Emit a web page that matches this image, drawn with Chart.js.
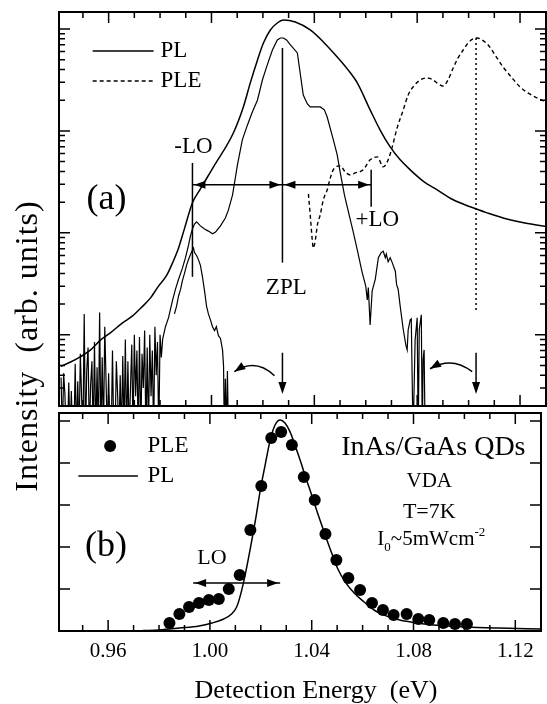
<!DOCTYPE html>
<html>
<head>
<meta charset="utf-8">
<script src="https://cdn.jsdelivr.net/npm/chart.js@4.4.1/dist/chart.umd.min.js"></script>
<style>
  body { margin: 0; background: #fff; }
  #wrap { position: relative; width: 547px; height: 704px; }
  #wrap canvas { position: absolute; left: 0; top: 0; }
</style>
</head>
<body>
<div id="wrap">
  <canvas id="panelA" width="547" height="704"></canvas>
  <canvas id="panelB" width="547" height="704"></canvas>
</div>
<script>
const SERIF = "'Liberation Serif', 'Times New Roman', serif";

// shared energy axis (eV)
const xMin = 0.9407, xMax = 1.1301;
const xTicks = [0.95, 0.96, 0.97, 0.98, 0.99, 1.00, 1.01, 1.02, 1.03, 1.04, 1.05, 1.06, 1.07, 1.08, 1.09, 1.10, 1.11, 1.12];
const xLabels = [0.96, 1.00, 1.04, 1.08, 1.12];

// panel (a), log intensity
const yMinA = 2.0, yMaxA = 14680;
const yTicksA = [3, 4, 5, 6, 7, 8, 9, 10, 20, 30, 40, 50, 60, 70, 80, 90, 100, 200, 300, 400, 500, 600, 700, 800, 900,
  1000, 2000, 3000, 4000, 5000, 6000, 7000, 8000, 9000, 10000];
const yMajorA = [10, 100, 1000, 10000];

// broad PL
const plE = [0.9414, 0.9452, 0.9491, 0.9530, 0.9569, 0.9608, 0.9654, 0.9693, 0.9732, 0.9763, 0.9794, 0.9825, 0.9849, 0.9872, 0.9895,
  0.9926, 0.9957, 1.0008, 1.0085, 1.0124, 1.0151, 1.0179, 1.0202, 1.0229, 1.0256, 1.0280, 1.0326, 1.0384, 1.0435, 1.0489,
  1.0528, 1.0567, 1.0617, 1.0656, 1.0695, 1.0734, 1.0773, 1.0823, 1.0878, 1.0940, 1.1006, 1.1072, 1.1134, 1.1219, 1.1305];
const plI = [4.9, 5.4, 6.1, 7.1, 8.9, 10.5, 13.1, 15.3, 19, 23, 30, 38, 51, 71, 110,
  197, 270, 444, 955, 1720, 2960, 4970, 7290, 9780, 11450, 12250, 11700, 9780, 7460, 5310,
  4060, 2960, 1610, 1020, 697, 520, 415, 322, 264, 211, 180, 157, 140, 125, 115];

// selectively excited PL: noisy low-energy tail
const rplNoiseE = [0.9415, 0.9420, 0.9425, 0.9430, 0.9435, 0.9440, 0.9445, 0.9450, 0.9455, 0.9460,
  0.9465, 0.9470, 0.9475, 0.9480, 0.9485, 0.9490, 0.9495, 0.9500, 0.9505, 0.9510,
  0.9515, 0.9520, 0.9525, 0.9530, 0.9535, 0.9540, 0.9545, 0.9550, 0.9555, 0.9560,
  0.9565, 0.9570, 0.9575, 0.9580, 0.9585, 0.9590, 0.9595, 0.9600, 0.9605, 0.9610,
  0.9615, 0.9620, 0.9625, 0.9630, 0.9635, 0.9640, 0.9645, 0.9650, 0.9655, 0.9660,
  0.9665, 0.9670, 0.9675, 0.9680, 0.9685, 0.9690, 0.9695, 0.9700, 0.9705, 0.9710,
  0.9715, 0.9720, 0.9725, 0.9730, 0.9735, 0.9740, 0.9745, 0.9750, 0.9755, 0.9760,
  0.9765, 0.9770, 0.9775, 0.9780, 0.9785, 0.9790, 0.9795, 0.9800, 0.9805, 0.9810];
const rplNoiseI = [3.8, 1, 4.2, 2.6, 1, 1, 3.4, 1, 2.8, 1,
  1, 5.2, 1, 3.5, 1, 6.5, 2.4, 1, 16, 1,
  4.5, 7.5, 1, 3.2, 5.5, 1, 8.5, 1, 4.8, 1,
  16.5, 1, 6, 1, 12, 3.5, 1, 4.2, 1, 1,
  7, 1, 1, 5.5, 2.6, 1, 4, 1, 6.2, 1,
  9, 1, 5.5, 1, 3, 8, 1, 10, 2.5, 7,
  1, 9.5, 1, 6.5, 3, 11, 1, 7.5, 1, 10,
  2.5, 7, 1, 12, 4, 8.5, 1, 10, 6, 9];
// selectively excited PL: main part
const rplE = [0.9821, 0.9833, 0.9849, 0.9860, 0.9872, 0.9887, 0.9899, 0.9911, 0.9918, 0.9926, 0.9934, 0.9942, 0.9957, 0.9973, 0.9988,
  1.0004, 1.0016, 1.0035, 1.0054, 1.0066, 1.0082, 1.0101, 1.0120, 1.0140, 1.0159, 1.0179, 1.0198, 1.0217, 1.0237, 1.0256,
  1.0268, 1.0280, 1.0292, 1.0307, 1.0334, 1.0346, 1.0357, 1.0373, 1.0384, 1.0404, 1.0423, 1.0439, 1.0450, 1.0474, 1.0489,
  1.0501, 1.0517, 1.0528, 1.0540, 1.0551, 1.0567, 1.0586, 1.0600, 1.0606, 1.0610, 1.0617, 1.0625, 1.0637, 1.0649, 1.0660,
  1.0668, 1.0676, 1.0680, 1.0687, 1.0695, 1.0703, 1.0715, 1.0720, 1.0726, 1.0734, 1.0746, 1.0756, 1.0761, 1.0765, 1.0773,
  1.0777, 1.0784, 1.0792, 1.0800, 1.0804, 1.0808, 1.0816, 1.0820, 1.0823, 1.0827, 1.0831];
const rplI = [12, 14.7, 22, 28, 35, 45, 57, 76, 93, 109, 122, 128, 117, 109, 104,
  98, 102, 117, 140, 168, 236, 464, 816, 1145, 1535, 2010, 3160, 4440, 6220, 7800,
  8160, 8160, 7800, 6970, 5820, 3540, 2250, 1840, 1720, 1720, 1720, 1610, 1370, 816, 582,
  387, 236, 180, 134, 103, 68, 41, 30, 22, 29, 12.5, 27, 35, 57, 64,
  66, 57, 62, 52, 57, 51, 42, 31, 28, 19, 11.2, 7.9, 7.1, 11.2, 14,
  14.3, 1, 8.9, 14.7, 1, 11.2, 15.7, 1, 5.7, 7.1, 1];

// -LO replica peak
const loE = [0.9856, 0.9864, 0.9872, 0.9880, 0.9887, 0.9895, 0.9903, 0.9911, 0.9918, 0.9926, 0.9930, 0.9934, 0.9942, 0.9950, 0.9957, 0.9965,
  0.9973, 0.9981, 0.9988, 0.9996, 1.0004, 1.0012, 1.0019, 1.0027, 1.0035, 1.0043, 1.0047, 1.0050, 1.0054, 1.0058, 1.0062, 1.0066];
const loI = [16, 19, 24, 28, 34, 40, 48, 55, 61, 68, 71, 64, 60, 54, 48, 37,
  27, 19, 16, 14, 12, 11, 12, 9.8, 9.2, 7.1, 4.9, 1, 3.7, 1, 4.4, 1];

// PLE (a)
const pleE = [1.0377, 1.0384, 1.0392, 1.0396, 1.0404, 1.0412, 1.0423, 1.0435, 1.0450, 1.0462, 1.0478, 1.0501, 1.0520, 1.0540, 1.0559,
  1.0590, 1.0617, 1.0645, 1.0668, 1.0687, 1.0703, 1.0722, 1.0746, 1.0765, 1.0784, 1.0812, 1.0839, 1.0862, 1.0882, 1.0901,
  1.0920, 1.0940, 1.0959, 1.0979, 1.0998, 1.1017, 1.1033, 1.1052, 1.1076, 1.1103, 1.1134, 1.1169, 1.1200, 1.1231, 1.1266, 1.1301];
const pleI = [241, 150, 85, 71, 85, 120, 150, 211, 264, 346, 433, 454, 396, 370, 387,
  415, 520, 556, 444, 520, 697, 1070, 1610, 2250, 2700, 3160, 3310, 3160, 2890, 2760,
  3160, 4150, 5200, 6220, 7290, 7980, 8160, 7800, 6970, 5560, 4240, 3310, 2700, 2360, 2110, 1920];

// panel (b), linear intensity
const yMinB = 0, yMaxB = 1.038;
const yTicksB = [0.2, 0.4, 0.6, 0.8, 1.0];
const bPleE = [0.9841, 0.9880, 0.9918, 0.9957, 0.9996, 1.0035, 1.0074, 1.0117, 1.0159, 1.0202, 1.0241, 1.0280, 1.0322, 1.0369,
  1.0412, 1.0454, 1.0497, 1.0544, 1.0590, 1.0637, 1.0680, 1.0722, 1.0773, 1.0819, 1.0862, 1.0917, 1.0963, 1.1010];
const bPleV = [0.038, 0.081, 0.114, 0.133, 0.148, 0.152, 0.200, 0.267, 0.481, 0.690, 0.919, 0.948, 0.886, 0.733,
  0.624, 0.462, 0.338, 0.252, 0.195, 0.133, 0.100, 0.076, 0.081, 0.057, 0.052, 0.038, 0.033, 0.033];
const bPlE = [0.9736, 0.9802, 0.9880, 0.9957, 1.0008, 1.0054, 1.0085, 1.0105, 1.0120, 1.0140, 1.0159, 1.0179, 1.0198, 1.0217,
  1.0237, 1.0256, 1.0276, 1.0295, 1.0315, 1.0334, 1.0357, 1.0377, 1.0396, 1.0423, 1.0450, 1.0474, 1.0501, 1.0532,
  1.0567, 1.0606, 1.0645, 1.0695, 1.0746, 1.0812, 1.0878, 1.1006, 1.1134, 1.1301];
const bPlV = [0.002, 0.005, 0.014, 0.024, 0.038, 0.057, 0.081, 0.114, 0.171, 0.276, 0.395, 0.529, 0.671, 0.790,
  0.910, 0.981, 1.005, 0.990, 0.948, 0.886, 0.805, 0.729, 0.662, 0.562, 0.467, 0.386, 0.300, 0.233,
  0.181, 0.138, 0.100, 0.071, 0.052, 0.038, 0.029, 0.019, 0.014, 0.010];

// annotation anchors (energy, intensity)
const markLinesA = [
  { e: 0.9926, top: 485, bottom: 37, dash: [] },      // -LO
  { e: 1.0276, top: 6520, bottom: 51, dash: [] },     // ZPL
  { e: 1.0621, top: 415, bottom: 180, dash: [] },     // +LO
  { e: 1.1029, top: 8160, bottom: 16.4, dash: [2, 3] } // PLE max
];
const loArrowsA = [[0.9926, 1.0276], [1.0276, 1.0621]];
const loArrowLevelA = 296;
const downArrowsA = [1.0276, 1.1029];
const downArrowSpanA = [6.66, 2.62];
const curvedArrowsA = [
  { from: [1.0245, 3.96], ctrl: [1.0171, 5.96], to: [1.0089, 4.34] },
  { from: [1.1014, 4.34], ctrl: [1.0936, 6.22], to: [1.0850, 4.64] }
];
const textsA = [
  { t: '(a)', e: 0.9592, v: 211, size: 36 },
  { t: '-LO', e: 0.9930, v: 697, size: 23 },
  { t: '+LO', e: 1.0645, v: 134, size: 23 },
  { t: 'ZPL', e: 1.0291, v: 28.9, size: 23 }
];
const textsB = [
  { t: '(b)', e: 0.9592, v: 0.40, size: 36 },
  { t: 'LO', e: 1.0008, v: 0.348, size: 22 },
  { t: 'InAs/GaAs QDs', e: 1.0878, v: 0.871, size: 28 },
  { t: 'VDA', e: 1.0862, v: 0.710, size: 21 },
  { t: 'T=7K', e: 1.0862, v: 0.567, size: 22 }
];

function pairs(xs, ys) { return xs.map((v, i) => ({ x: v, y: ys[i] })); }

function head(ctx, tx, ty, ang, len, half) {
  len = len || 10; half = half || 4;
  const c = Math.cos(ang), s = Math.sin(ang);
  ctx.beginPath();
  ctx.moveTo(tx, ty);
  ctx.lineTo(tx - len * c - half * s, ty - len * s + half * c);
  ctx.lineTo(tx - len * c + half * s, ty - len * s - half * c);
  ctx.closePath();
  ctx.fill();
}

function doubleArrow(ctx, x1, x2, y) {
  ctx.beginPath(); ctx.moveTo(x1, y); ctx.lineTo(x2, y); ctx.stroke();
  head(ctx, x1 + 2, y, Math.PI, 11, 4);
  head(ctx, x2 - 2, y, 0, 11, 4);
}

function framePlugin(yTicks, yMajor) {
  return {
    id: 'frame',
    afterDatasetsDraw(chart) {
      const { ctx, chartArea: a, scales: { x, y } } = chart;
      ctx.save();
      ctx.strokeStyle = '#000';
      ctx.lineWidth = 1.5;
      ctx.beginPath();
      xTicks.forEach(v => {
        const px = x.getPixelForValue(v);
        const len = xLabels.includes(v) ? 11 : 6;
        ctx.moveTo(px, a.top); ctx.lineTo(px, a.top + len);
        ctx.moveTo(px, a.bottom); ctx.lineTo(px, a.bottom - len);
      });
      yTicks.forEach(v => {
        const py = y.getPixelForValue(v);
        const len = yMajor.includes(v) ? 11 : 6;
        ctx.moveTo(a.left, py); ctx.lineTo(a.left + len, py);
        ctx.moveTo(a.right, py); ctx.lineTo(a.right - len, py);
      });
      ctx.stroke();
      ctx.lineWidth = 2;
      ctx.strokeRect(a.left, a.top, a.right - a.left, a.bottom - a.top);
      ctx.restore();
    }
  };
}

function drawTexts(ctx, list, x, y) {
  ctx.textAlign = 'center';
  ctx.textBaseline = 'middle';
  list.forEach(o => {
    ctx.font = o.size + 'px ' + SERIF;
    ctx.fillText(o.t, x.getPixelForValue(o.e), y.getPixelForValue(o.v));
  });
}

const annotateA = {
  id: 'annotateA',
  afterDatasetsDraw(chart) {
    const { ctx, scales: { x, y } } = chart;
    const px = e => x.getPixelForValue(e), py = v => y.getPixelForValue(v);
    ctx.save();
    ctx.strokeStyle = '#000';
    ctx.fillStyle = '#000';
    ctx.lineWidth = 1.5;
    markLinesA.forEach(m => {
      ctx.setLineDash(m.dash);
      ctx.beginPath(); ctx.moveTo(px(m.e), py(m.top)); ctx.lineTo(px(m.e), py(m.bottom)); ctx.stroke();
    });
    ctx.setLineDash([]);
    loArrowsA.forEach(p => doubleArrow(ctx, px(p[0]), px(p[1]), py(loArrowLevelA)));
    downArrowsA.forEach(e => {
      const X = px(e), y1 = py(downArrowSpanA[0]), y2 = py(downArrowSpanA[1]);
      ctx.beginPath(); ctx.moveTo(X, y1); ctx.lineTo(X, y2 - 4); ctx.stroke();
      head(ctx, X, y2, Math.PI / 2, 12, 4);
    });
    curvedArrowsA.forEach(c => {
      const s = [px(c.from[0]), py(c.from[1])], k = [px(c.ctrl[0]), py(c.ctrl[1])], t = [px(c.to[0]), py(c.to[1])];
      ctx.beginPath(); ctx.moveTo(s[0], s[1]); ctx.quadraticCurveTo(k[0], k[1], t[0], t[1]); ctx.stroke();
      head(ctx, t[0], t[1], Math.atan2(t[1] - k[1], t[0] - k[0]), 11, 4);
    });
    drawTexts(ctx, textsA, x, y);
    // legend
    ctx.lineWidth = 1.5;
    ctx.beginPath(); ctx.moveTo(px(0.9538), py(6080)); ctx.lineTo(px(0.9775), py(6080)); ctx.stroke();
    ctx.setLineDash([4, 3]);
    ctx.beginPath(); ctx.moveTo(px(0.9538), py(3090)); ctx.lineTo(px(0.9775), py(3090)); ctx.stroke();
    ctx.setLineDash([]);
    ctx.font = '23px ' + SERIF;
    ctx.textAlign = 'left';
    ctx.fillText('PL', px(0.9802), py(6080));
    ctx.fillText('PLE', px(0.9802), py(3090));
    ctx.restore();
  }
};

const annotateB = {
  id: 'annotateB',
  afterDatasetsDraw(chart) {
    const { ctx, chartArea: a, scales: { x, y } } = chart;
    const px = e => x.getPixelForValue(e), py = v => y.getPixelForValue(v);
    ctx.save();
    ctx.strokeStyle = '#000';
    ctx.fillStyle = '#000';
    ctx.lineWidth = 1.5;
    doubleArrow(ctx, px(0.9934), px(1.0276), py(0.229));
    drawTexts(ctx, textsB, x, y);
    // I0 ~ 5 mW cm^-2
    const big = '21px ' + SERIF, small = '13px ' + SERIF;
    const parts = [['I', big, 0], ['0', small, 6], ['~5mWcm', big, 0], ['-2', small, -9]];
    let w = 0;
    parts.forEach(p => { ctx.font = p[1]; w += ctx.measureText(p[0]).width; });
    let cx = px(1.0870) - w / 2;
    const base = py(0.443) + 7;
    ctx.textAlign = 'left';
    ctx.textBaseline = 'alphabetic';
    parts.forEach(p => { ctx.font = p[1]; ctx.fillText(p[0], cx, base + p[2]); cx += ctx.measureText(p[0]).width; });
    // legend
    ctx.beginPath(); ctx.arc(px(0.9608), py(0.881), 6, 0, Math.PI * 2); ctx.fill();
    ctx.beginPath(); ctx.moveTo(px(0.9483), py(0.738)); ctx.lineTo(px(0.9717), py(0.738)); ctx.stroke();
    ctx.font = '23px ' + SERIF;
    ctx.textBaseline = 'middle';
    ctx.fillText('PLE', px(0.9755), py(0.881));
    ctx.fillText('PL', px(0.9755), py(0.738));
    // axis titles
    ctx.textAlign = 'center';
    ctx.font = '26px ' + SERIF;
    ctx.fillText('Detection Energy  (eV)', 316, 691);
    ctx.save();
    ctx.translate(a.left - 30, 346);
    ctx.rotate(-Math.PI / 2);
    ctx.font = '32px ' + SERIF;
    ctx.letterSpacing = '1px';
    ctx.fillText('Intensity  (arb. units)', 0, 0);
    ctx.restore();
    ctx.restore();
  }
};

Chart.defaults.font.family = SERIF;
Chart.defaults.color = '#000';

new Chart(document.getElementById('panelA'), {
  type: 'line',
  data: {
    datasets: [
      { data: pairs(plE, plI), borderColor: '#000', borderWidth: 1.5, pointRadius: 0, cubicInterpolationMode: 'monotone' },
      { data: pairs(rplNoiseE.concat(rplE), rplNoiseI.concat(rplI)), borderColor: '#000', borderWidth: 1.2, pointRadius: 0, tension: 0 },
      { data: pairs(loE, loI), borderColor: '#000', borderWidth: 1.2, pointRadius: 0, tension: 0 },
      { data: pairs(pleE, pleI), borderColor: '#000', borderWidth: 1.4, borderDash: [4, 3], pointRadius: 0, cubicInterpolationMode: 'monotone' }
    ]
  },
  options: {
    responsive: false, animation: false, devicePixelRatio: 1, events: [],
    layout: { padding: { top: 12, left: 59, right: 1, bottom: 298 } },
    scales: {
      x: { type: 'linear', min: xMin, max: xMax, display: false },
      y: { type: 'logarithmic', min: yMinA, max: yMaxA, display: false }
    },
    plugins: { legend: { display: false }, tooltip: { enabled: false } }
  },
  plugins: [framePlugin(yTicksA, yMajorA), annotateA]
});

new Chart(document.getElementById('panelB'), {
  type: 'line',
  data: {
    datasets: [
      { data: pairs(bPlE, bPlV), borderColor: '#000', borderWidth: 1.5, pointRadius: 0, cubicInterpolationMode: 'monotone' },
      { data: pairs(bPleE, bPleV), showLine: false, pointRadius: 6, pointBackgroundColor: '#000', pointBorderColor: '#000', pointBorderWidth: 0 }
    ]
  },
  options: {
    responsive: false, animation: false, devicePixelRatio: 1, events: [],
    layout: { padding: { top: 413, left: 59, right: 1, bottom: 0 } },
    scales: {
      x: {
        type: 'linear', min: xMin, max: xMax,
        afterBuildTicks: s => { s.ticks = xLabels.map(v => ({ value: v })); },
        afterFit: s => { s.height = 73; },
        grid: { display: false, drawTicks: false },
        border: { display: false },
        ticks: { color: '#000', font: { family: SERIF, size: 21 }, padding: 8, maxRotation: 0, callback: v => v.toFixed(2) },
        title: { display: false }
      },
      y: { type: 'linear', min: yMinB, max: yMaxB, display: false }
    },
    plugins: { legend: { display: false }, tooltip: { enabled: false } }
  },
  plugins: [framePlugin(yTicksB, yTicksB), annotateB]
});
</script>
</body>
</html>
